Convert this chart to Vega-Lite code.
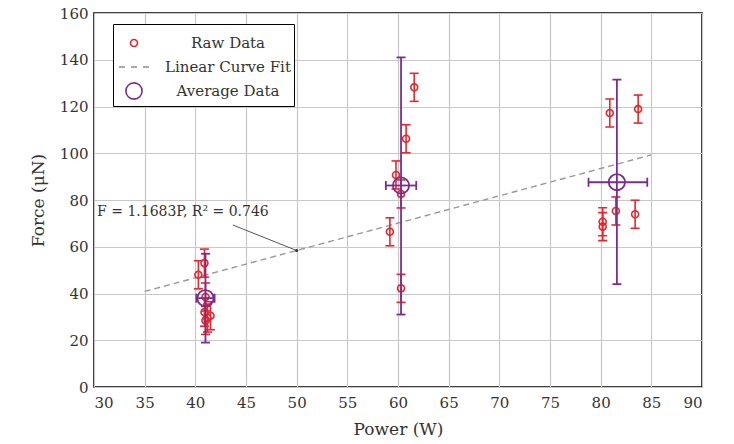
{
  "$schema": "https://vega.github.io/schema/vega-lite/v6.json",
  "width": 608,
  "height": 374,
  "autosize": {"type": "none"},
  "padding": {"left": 94, "top": 13, "right": 32, "bottom": 57},
  "background": "white",
  "config": {
    "font": "DejaVu Serif",
    "view": {"stroke": "black", "strokeWidth": 1.6},
    "axis": {
      "grid": true, "gridColor": "#c8c8c8", "gridWidth": 1.2,
      "domain": false, "ticks": false,
      "labelFont": "DejaVu Serif", "labelFontSize": 15, "labelColor": "#333",
      "titleFont": "DejaVu Serif", "titleFontSize": 16, "titleFontWeight": "normal", "titleColor": "#333"
    }
  },
  "datasets": {
    "raw": [
      {"P": 40.3, "F": 48, "lo": 42, "hi": 54, "series": "Raw Data"},
      {"P": 40.9, "F": 53, "lo": 47, "hi": 59, "series": "Raw Data"},
      {"P": 41.0, "F": 38.5, "lo": 32.5, "hi": 44.5, "series": "Raw Data"},
      {"P": 40.9, "F": 32, "lo": 26, "hi": 38, "series": "Raw Data"},
      {"P": 41.2, "F": 29.5, "lo": 23.5, "hi": 35.5, "series": "Raw Data"},
      {"P": 41.5, "F": 30.5, "lo": 24.5, "hi": 36.5, "series": "Raw Data"},
      {"P": 41.0, "F": 28.5, "lo": 22.5, "hi": 34.5, "series": "Raw Data"},
      {"P": 61.6, "F": 128.2, "lo": 122.2, "hi": 134.2, "series": "Raw Data"},
      {"P": 60.8, "F": 106.2, "lo": 100.2, "hi": 112.2, "series": "Raw Data"},
      {"P": 59.8, "F": 90.7, "lo": 84.7, "hi": 96.7, "series": "Raw Data"},
      {"P": 60.3, "F": 82.6, "lo": 76.6, "hi": 88.6, "series": "Raw Data"},
      {"P": 59.2, "F": 66.4, "lo": 60.4, "hi": 72.4, "series": "Raw Data"},
      {"P": 60.3, "F": 42.2, "lo": 36.2, "hi": 48.2, "series": "Raw Data"},
      {"P": 80.9, "F": 117.2, "lo": 111.2, "hi": 123.2, "series": "Raw Data"},
      {"P": 83.7, "F": 118.9, "lo": 112.9, "hi": 124.9, "series": "Raw Data"},
      {"P": 81.5, "F": 75.3, "lo": 69.3, "hi": 81.3, "series": "Raw Data"},
      {"P": 83.4, "F": 73.9, "lo": 67.9, "hi": 79.9, "series": "Raw Data"},
      {"P": 80.2, "F": 70.7, "lo": 64.7, "hi": 76.7, "series": "Raw Data"},
      {"P": 80.2, "F": 68.6, "lo": 62.6, "hi": 74.6, "series": "Raw Data"}
    ],
    "avg": [
      {"P": 41.0, "F": 38, "lo": 19, "hi": 57, "xlo": 40.1, "xhi": 41.9, "series": "Average Data"},
      {"P": 60.3, "F": 86.2, "lo": 31, "hi": 141, "xlo": 58.8, "xhi": 61.8, "series": "Average Data"},
      {"P": 81.6, "F": 87.6, "lo": 44, "hi": 131.5, "xlo": 78.8, "xhi": 84.6, "series": "Average Data"}
    ],
    "fit": [{"P": 35, "F": 40.89}, {"P": 85, "F": 99.31}],
    "note": [{"P": 30.3, "F": 75, "label": "F = 1.1683P, R² = 0.746", "P1": 43.7, "F1": 69.3, "P2": 50, "F2": 58.4}]
  },
  "layer": [
    {
      "data": {"name": "fit"},
      "mark": {"type": "line", "color": "#999999", "strokeDash": [6, 4], "strokeWidth": 1.4},
      "encoding": {
        "x": {"field": "P", "type": "quantitative", "scale": {"domain": [30, 90], "nice": false},
              "axis": {"values": [30,35,40,45,50,55,60,65,70,75,80,85,90], "title": "Power (W)", "labelPadding": 8, "titlePadding": 11, "titleFontSize": 17}},
        "y": {"field": "F", "type": "quantitative", "scale": {"domain": [0, 160], "nice": false},
              "axis": {"values": [0,20,40,60,80,100,120,140,160], "title": "Force (μN)", "labelPadding": 6, "titlePadding": 12, "titleFontSize": 17}}
      }
    },
    {
      "data": {"name": "note"},
      "mark": {"type": "rule", "color": "#555555", "strokeWidth": 1},
      "encoding": {
        "x": {"field": "P1", "type": "quantitative"},
        "y": {"field": "F1", "type": "quantitative"},
        "x2": {"field": "P2"},
        "y2": {"field": "F2"}
      }
    },
    {
      "data": {"name": "note"},
      "mark": {"type": "point", "filled": true, "color": "#333333", "size": 10, "opacity": 1},
      "encoding": {
        "x": {"field": "P2", "type": "quantitative"},
        "y": {"field": "F2", "type": "quantitative"}
      }
    },
    {
      "data": {"name": "note"},
      "mark": {"type": "text", "align": "left", "baseline": "middle", "fontSize": 14, "color": "#333333", "font": "DejaVu Serif"},
      "encoding": {
        "x": {"field": "P", "type": "quantitative"},
        "y": {"field": "F", "type": "quantitative"},
        "text": {"field": "label"}
      }
    },
    {
      "data": {"name": "raw"},
      "mark": {"type": "rule", "color": "#e8262b", "strokeWidth": 1.6},
      "encoding": {
        "x": {"field": "P", "type": "quantitative"},
        "y": {"field": "lo", "type": "quantitative"},
        "y2": {"field": "hi"}
      }
    },
    {
      "data": {"name": "raw"},
      "mark": {"type": "tick", "orient": "horizontal", "color": "#e8262b", "size": 9, "thickness": 1.6, "opacity": 1},
      "encoding": {
        "x": {"field": "P", "type": "quantitative"},
        "y": {"field": "lo", "type": "quantitative"}
      }
    },
    {
      "data": {"name": "raw"},
      "mark": {"type": "tick", "orient": "horizontal", "color": "#e8262b", "size": 9, "thickness": 1.6, "opacity": 1},
      "encoding": {
        "x": {"field": "P", "type": "quantitative"},
        "y": {"field": "hi", "type": "quantitative"}
      }
    },
    {
      "data": {"name": "raw"},
      "mark": {"type": "point", "filled": false, "strokeWidth": 1.6, "opacity": 1, "size": 900},
      "encoding": {
        "x": {"field": "P", "type": "quantitative"},
        "y": {"field": "F", "type": "quantitative"},
        "color": {"field": "series", "type": "nominal",
                  "scale": {"domain": ["Raw Data", "Linear Curve Fit", "Average Data"], "range": ["#e8262b", "#8c8c8c", "#7b2d8e"]},
                  "legend": {"title": null, "orient": "none", "legendX": 19, "legendY": 11,
                             "strokeColor": "black", "fillColor": "white", "padding": 3,
                             "labelFont": "DejaVu Serif", "labelFontSize": 15, "labelColor": "#333",
                             "labelAlign": "center", "labelOffset": 78, "symbolSize": 900,
                             "symbolStrokeWidth": 1.6, "rowPadding": -2, "symbolOffset": 2}},
        "shape": {"field": "series", "type": "nominal",
                  "scale": {"domain": ["Raw Data", "Linear Curve Fit", "Average Data"],
                            "range": ["M0.233,0A0.233,0.233,0,1,1,-0.233,0A0.233,0.233,0,1,1,0.233,0Z",
                                      "M-1,0L-0.6,0M-0.2,0L0.2,0M0.6,0L1,0",
                                      "M0.54,0A0.54,0.54,0,1,1,-0.54,0A0.54,0.54,0,1,1,0.54,0Z"]}}
      }
    },
    {
      "data": {"name": "avg"},
      "mark": {"type": "rule", "color": "#7b2d8e", "strokeWidth": 1.8},
      "encoding": {
        "x": {"field": "P", "type": "quantitative"},
        "y": {"field": "lo", "type": "quantitative"},
        "y2": {"field": "hi"}
      }
    },
    {
      "data": {"name": "avg"},
      "mark": {"type": "rule", "color": "#7b2d8e", "strokeWidth": 1.8},
      "encoding": {
        "x": {"field": "xlo", "type": "quantitative"},
        "x2": {"field": "xhi"},
        "y": {"field": "F", "type": "quantitative"}
      }
    },
    {
      "data": {"name": "avg"},
      "mark": {"type": "tick", "orient": "horizontal", "color": "#7b2d8e", "size": 9, "thickness": 1.8, "opacity": 1},
      "encoding": {
        "x": {"field": "P", "type": "quantitative"},
        "y": {"field": "lo", "type": "quantitative"}
      }
    },
    {
      "data": {"name": "avg"},
      "mark": {"type": "tick", "orient": "horizontal", "color": "#7b2d8e", "size": 9, "thickness": 1.8, "opacity": 1},
      "encoding": {
        "x": {"field": "P", "type": "quantitative"},
        "y": {"field": "hi", "type": "quantitative"}
      }
    },
    {
      "data": {"name": "avg"},
      "mark": {"type": "tick", "orient": "vertical", "color": "#7b2d8e", "size": 9, "thickness": 1.8, "opacity": 1},
      "encoding": {
        "x": {"field": "xlo", "type": "quantitative"},
        "y": {"field": "F", "type": "quantitative"}
      }
    },
    {
      "data": {"name": "avg"},
      "mark": {"type": "tick", "orient": "vertical", "color": "#7b2d8e", "size": 9, "thickness": 1.8, "opacity": 1},
      "encoding": {
        "x": {"field": "xhi", "type": "quantitative"},
        "y": {"field": "F", "type": "quantitative"}
      }
    },
    {
      "data": {"name": "avg"},
      "mark": {"type": "point", "filled": false, "strokeWidth": 1.8, "opacity": 1, "size": 900},
      "encoding": {
        "x": {"field": "P", "type": "quantitative"},
        "y": {"field": "F", "type": "quantitative"},
        "color": {"field": "series", "type": "nominal"},
        "shape": {"field": "series", "type": "nominal"}
      }
    }
  ]
}
